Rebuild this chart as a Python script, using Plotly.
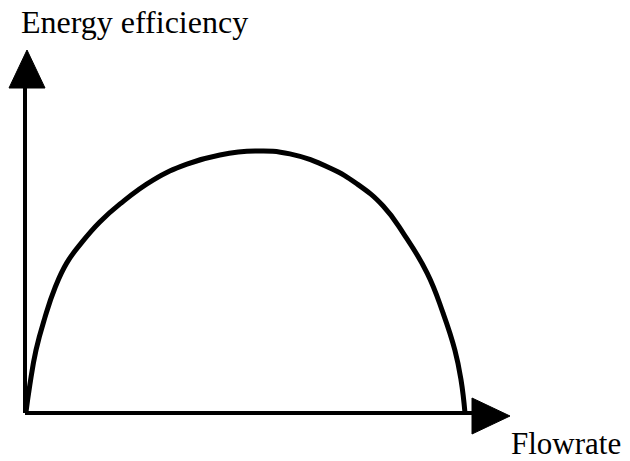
import plotly.graph_objects as go

# Data (arbitrary units: flowrate 0-100, efficiency 0-100)
flowrate = [0.2, 1.1, 2.5, 4.5, 6.8, 9.5, 13.0, 17.0, 21.6, 29.1, 36.8, 44.3,
            52.3, 60.2, 69.3, 75.5, 81.4, 86.1, 91.4, 95.0, 97.7, 99.1, 100]
efficiency = [0, 10.7, 24.0, 36.3, 47.7, 57.3, 65.3, 72.9, 79.8, 88.9, 95.0, 98.5,
              100, 98.9, 93.5, 87.4, 79.0, 68.3, 53.4, 38.2, 24.0, 12.6, 0]

W, H = 630, 461
OX, OY = 25, 413          # origin pixel
SX, SY = 4.40, 2.62       # pixels per data unit

def dx(px):
    return (px - OX) / SX

def dy(py):
    return (OY - py) / SY

fig = go.Figure()
fig.add_trace(go.Scatter(x=flowrate, y=efficiency, mode="lines",
                         line=dict(color="black", width=5, shape="spline", smoothing=1.3),
                         hoverinfo="skip", showlegend=False))

shapes = [
    # y axis
    dict(type="line", x0=0, y0=0, x1=0, y1=dy(85), line=dict(color="black", width=4)),
    # x axis
    dict(type="line", x0=0, y0=0, x1=dx(475), y1=0, line=dict(color="black", width=4)),
    # y arrowhead
    dict(type="path",
         path=f"M {dx(27)} {dy(50)} L {dx(9)} {dy(88)} L {dx(45)} {dy(88)} Z",
         fillcolor="black", line=dict(color="black", width=1)),
    # x arrowhead
    dict(type="path",
         path=f"M {dx(510)} {dy(416)} L {dx(472)} {dy(398)} L {dx(472)} {dy(434)} Z",
         fillcolor="black", line=dict(color="black", width=1)),
]

font = dict(family="Liberation Serif, Times New Roman, serif", size=32, color="black")
font2 = dict(family="Liberation Serif, Times New Roman, serif", size=31, color="black")
annotations = [
    dict(text="Energy efficiency", x=20 / W, y=1 - 22 / H, xref="paper", yref="paper",
         xanchor="left", yanchor="middle", showarrow=False, font=font, borderpad=0),
    dict(text="Flowrate", x=510 / W, y=1 - 443 / H, xref="paper", yref="paper",
         xanchor="left", yanchor="middle", showarrow=False, font=font2, borderpad=0),
]

fig.update_layout(
    width=W, height=H,
    margin=dict(l=0, r=0, t=0, b=0),
    paper_bgcolor="white", plot_bgcolor="white",
    xaxis=dict(range=[dx(0), dx(W)], visible=False, fixedrange=True),
    yaxis=dict(range=[dy(H), dy(0)], visible=False, fixedrange=True),
    shapes=shapes, annotations=annotations,
    showlegend=False,
)

fig.write_html("out.html", config={"displayModeBar": False},
               post_script="document.body.style.margin='0';document.body.style.overflow='hidden';")
